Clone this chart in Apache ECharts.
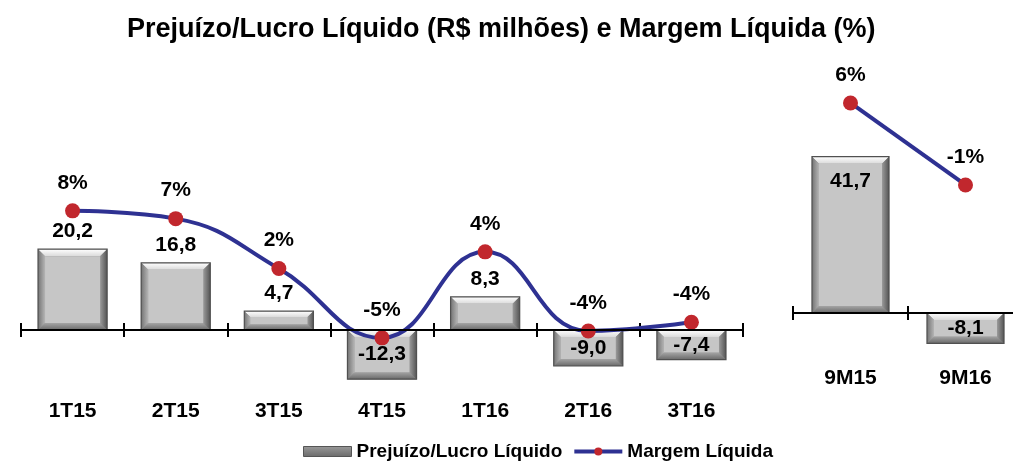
<!DOCTYPE html>
<html>
<head>
<meta charset="utf-8">
<script src="https://cdn.jsdelivr.net/npm/echarts@6/dist/echarts.min.js"></script>
<style>html,body{margin:0;padding:0;background:#fff}#c{width:1013px;height:466px}</style>
</head>
<body>
<div id="c"></div>
<script>
var quarters = ['1T15','2T15','3T15','4T15','1T16','2T16','3T16'];
var quarterProfit = [20.2, 16.8, 4.7, -12.3, 8.3, -9.0, -7.4];
var quarterMargin = [8.0, 7.2, 2.1, -5.0, 3.8, -4.3, -3.4];
var quarterMarginLabels = ['8%','7%','2%','-5%','4%','-4%','-4%'];
var periods = ['9M15','9M16'];
var periodProfit = [41.7, -8.1];
var periodMargin = [6.0, -1.0];
var periodMarginLabels = ['6%','-1%'];

var FONT = '"Liberation Sans", Arial, sans-serif';
function fmt(v){ return v.toFixed(1).replace('.', ','); }

var chart = echarts.init(document.getElementById('c'));
var labelFont = {fontFamily: FONT, fontWeight: 'bold', fontSize: 21, color: '#000'};
var catFont = {fontFamily: FONT, fontWeight: 'bold', fontSize: 21, color: '#000'};
var tickStyle = {color: '#000', width: 2};
var BAR_RATIO = 0.67;

function lg(x, y, x2, y2, c1, c2){
  return {type: 'linear', x: x, y: y, x2: x2, y2: y2, colorStops: [{offset: 0, color: c1}, {offset: 1, color: c2}]};
}

// Bevelled bar drawn through the axes' own scales
function bevelBar(params, api){
  var idx = api.value(0), val = api.value(1);
  var p0 = api.coord([idx, 0]);
  var p1 = api.coord([idx, val]);
  var w = api.size([1, 0])[0] * BAR_RATIO;
  var x = p0[0] - w / 2;
  var y = Math.min(p0[1], p1[1]);
  var h = Math.abs(p1[1] - p0[1]);
  var b = Math.max(2, Math.min(7, h / 3.2, w / 5));
  return {
    type: 'group',
    children: [
      {type: 'rect', shape: {x: x, y: y, width: w, height: h}, style: {fill: '#8a8a8a'}},
      {type: 'polygon', shape: {points: [[x, y], [x + w, y], [x + w - b, y + b], [x + b, y + b]]},
       style: {fill: lg(0, 0, 0, 1, '#ffffff', '#dadada')}},
      {type: 'polygon', shape: {points: [[x, y + h], [x + w, y + h], [x + w - b, y + h - b], [x + b, y + h - b]]},
       style: {fill: lg(0, 1, 0, 0, '#6a6a6a', '#a4a4a4')}},
      {type: 'polygon', shape: {points: [[x, y], [x + b, y + b], [x + b, y + h - b], [x, y + h]]},
       style: {fill: lg(0, 0, 1, 0, '#747474', '#b4b4b4')}},
      {type: 'polygon', shape: {points: [[x + w, y], [x + w - b, y + b], [x + w - b, y + h - b], [x + w, y + h]]},
       style: {fill: lg(1, 0, 0, 0, '#555555', '#9a9a9a')}},
      {type: 'rect', shape: {x: x + b, y: y + b, width: w - 2 * b, height: h - 2 * b}, style: {fill: '#c6c6c6'}},
      {type: 'rect', shape: {x: x, y: y, width: w, height: h}, style: {fill: null, stroke: '#505050', lineWidth: 1.2}}
    ]
  };
}

chart.setOption({
  animation: false,
  backgroundColor: '#fff',
  title: {
    text: 'Prejuízo/Lucro Líquido (R$ milhões) e Margem Líquida (%)',
    left: 122, top: 11,
    textStyle: {fontFamily: FONT, fontWeight: 'bold', fontSize: 27, color: '#000'}
  },
  legend: {
    bottom: 0, left: 298,
    itemWidth: 48, itemHeight: 10, itemGap: 10,
    textStyle: {fontFamily: FONT, fontWeight: 'bold', fontSize: 19, color: '#000'},
    data: [
      {name: 'Prejuízo/Lucro Líquido', icon: 'rect',
       itemStyle: {color: lg(0, 0, 0, 1, '#9a9a9a', '#6a6a6a'), borderColor: '#555', borderWidth: 1}},
      {name: 'Margem Líquida', lineStyle: {color: '#2e3192', width: 4}, itemStyle: {color: '#c1272d'}}
    ]
  },
  grid: [
    {left: 21, width: 722, top: 60, height: 330, containLabel: false, outerBoundsMode: 'none'},
    {left: 793, width: 230, top: 60, height: 300, containLabel: false, outerBoundsMode: 'none'}
  ],
  xAxis: [
    {type: 'category', gridIndex: 0, data: quarters, position: 'bottom', z: 10,
     axisLine: {onZero: true, onZeroAxisIndex: 0, lineStyle: tickStyle},
     axisTick: {show: true, length: 7, lineStyle: tickStyle},
     axisLabel: {show: false}},
    {type: 'category', gridIndex: 0, data: quarters, position: 'bottom',
     axisLine: {show: false, onZero: true, onZeroAxisIndex: 0},
     axisTick: {show: true, inside: true, length: 7, lineStyle: tickStyle},
     axisLabel: {show: false}},
    {type: 'category', gridIndex: 0, data: quarters, position: 'bottom',
     axisLine: {show: false, onZero: false},
     axisTick: {show: false},
     axisLabel: Object.assign({margin: 11}, catFont)},
    {type: 'category', gridIndex: 1, data: periods, position: 'bottom', z: 10,
     axisLine: {onZero: true, onZeroAxisIndex: 2, lineStyle: tickStyle},
     axisTick: {show: true, length: 7, lineStyle: tickStyle},
     axisLabel: {show: false}},
    {type: 'category', gridIndex: 1, data: periods, position: 'bottom',
     axisLine: {show: false, onZero: true, onZeroAxisIndex: 2},
     axisTick: {show: true, inside: true, length: 7, lineStyle: tickStyle},
     axisLabel: {show: false}},
    {type: 'category', gridIndex: 1, data: periods, position: 'bottom',
     axisLine: {show: false, onZero: false},
     axisTick: {show: false},
     axisLabel: Object.assign({margin: 8}, catFont)}
  ],
  yAxis: [
    {type: 'value', gridIndex: 0, min: -15, max: 67.5, show: false, splitLine: {show: false}},
    {type: 'value', gridIndex: 0, min: -10.34, max: 23.44, show: false, splitLine: {show: false}},
    {type: 'value', gridIndex: 1, min: -12.53, max: 67.47, show: false, splitLine: {show: false}},
    {type: 'value', gridIndex: 1, min: -15.94, max: 9.67, show: false, splitLine: {show: false}}
  ],
  series: [
    {type: 'custom', name: 'bevel-q', xAxisIndex: 0, yAxisIndex: 0,
     data: quarterProfit.map(function(v, i){ return [i, v]; }),
     renderItem: bevelBar, z: 1, silent: true},
    {type: 'bar', name: 'Prejuízo/Lucro Líquido', xAxisIndex: 0, yAxisIndex: 0,
     data: quarterProfit.map(function(v){ return {value: v, label: {position: v >= 0 ? 'top' : 'inside'}}; }),
     barWidth: '67%',
     itemStyle: {color: 'rgba(0,0,0,0)', borderWidth: 0},
     label: Object.assign({show: true, distance: 7, formatter: function(p){ return fmt(p.value); }}, labelFont),
     z: 3},
    {type: 'line', name: 'Margem Líquida', xAxisIndex: 0, yAxisIndex: 1,
     data: quarterMargin, smooth: 0.45,
     lineStyle: {color: '#2e3192', width: 4},
     itemStyle: {color: '#c1272d'},
     symbol: 'circle', symbolSize: 15,
     label: Object.assign({show: true, position: 'top', distance: 10,
       formatter: function(p){ return quarterMarginLabels[p.dataIndex]; }}, labelFont),
     z: 5},
    {type: 'custom', name: 'bevel-p', xAxisIndex: 3, yAxisIndex: 2,
     data: periodProfit.map(function(v, i){ return [i, v]; }),
     renderItem: bevelBar, z: 1, silent: true},
    {type: 'bar', name: 'Prejuízo/Lucro Líquido', xAxisIndex: 3, yAxisIndex: 2,
     data: periodProfit.map(function(v){ return {value: v, label: {position: v >= 0 ? 'insideTop' : 'inside'}}; }),
     barWidth: '67%',
     itemStyle: {color: 'rgba(0,0,0,0)', borderWidth: 0},
     label: Object.assign({show: true, distance: 14, formatter: function(p){ return fmt(p.value); }}, labelFont),
     z: 3},
    {type: 'line', name: 'Margem Líquida', xAxisIndex: 3, yAxisIndex: 3,
     data: periodMargin,
     lineStyle: {color: '#2e3192', width: 4},
     itemStyle: {color: '#c1272d'},
     symbol: 'circle', symbolSize: 15,
     label: Object.assign({show: true, position: 'top', distance: 10,
       formatter: function(p){ return periodMarginLabels[p.dataIndex]; }}, labelFont),
     z: 5}
  ]
});
</script>
</body>
</html>
